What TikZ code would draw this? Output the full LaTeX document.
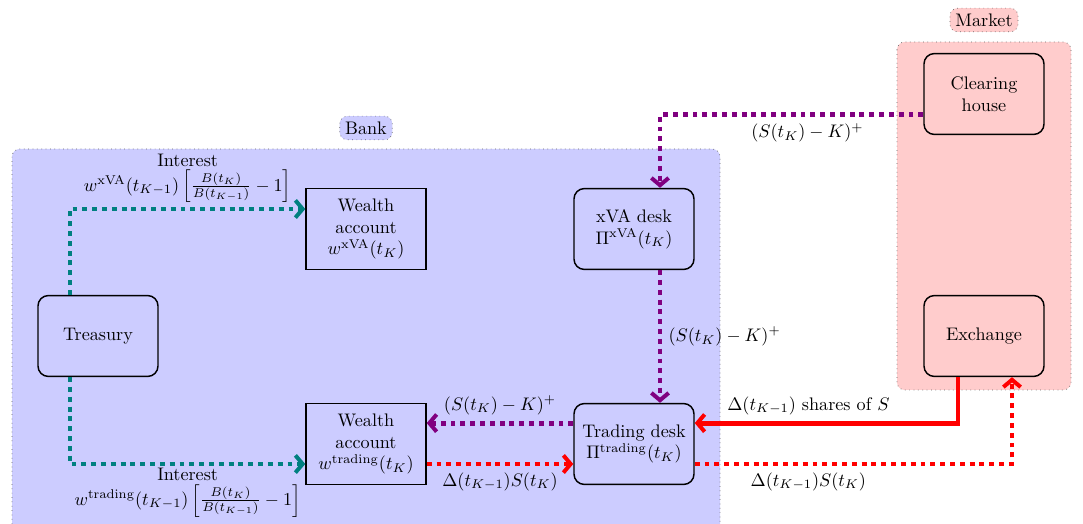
\documentclass[tikz,border=0pt]{standalone}
\usepackage{amsmath}
\usetikzlibrary{positioning, arrows.meta, backgrounds}

\begin{document}
\begin{tikzpicture}[
  x=0.55pt, y=-0.55pt,
  box/.style={draw, thick, align=center, minimum width=66pt, minimum height=44.5pt, inner sep=2pt, fill=blue!20},
  desk/.style={box, rounded corners=2mm},
  mbox/.style={desk, fill=red!20},
  flow/.style={line width=2.7pt, -{Straight Barb[length=4pt, width=9.5pt, line width=2.2pt]}},
  dotflow/.style={flow, dash pattern=on 2.7pt off 2.7pt},
  lbl/.style={text=black},
  group/.style={draw, dotted, gray!80!black, rounded corners=1.5mm},
  tag/.style={group, text=black, inner sep=3pt}
]
\useasboundingbox (0,0) rectangle (1083,524);

% --- Boxes of the bank ---
\node[desk] (treasury) at (98,336) {Treasury};
\node[box] (wxva) at (366,229) {Wealth\\account\\$w^{\mathrm{xVA}}(t_K)$};
\node[box] (wtrade) at (366,444) {Wealth\\account\\$w^{\mathrm{trading}}(t_K)$};
\node[desk] (xva) at (634,229) {xVA desk\\$\Pi^{\mathrm{xVA}}(t_K)$};
\node[desk] (trade) at (634,444) {Trading desk\\$\Pi^{\mathrm{trading}}(t_K)$};

% --- Boxes of the market ---
\node[mbox] (clearing) at (984,94) {Clearing\\house};
\node[mbox] (exchange) at (984,336) {Exchange};

% --- Group backgrounds ---
\begin{scope}[on background layer]
\draw[group, fill=blue!20] (12,149) rectangle (720,545);
\draw[group, fill=red!20] (897,42) rectangle (1071,390);
\end{scope}
\node[tag, fill=blue!20] (bank) at (366,128) {Bank};
\node[tag, fill=red!20] (market) at (984,20) {Market};

% --- Interest ---
\draw[dotflow, teal] ([xshift=-15.4pt]treasury.north) |- ([yshift=11pt]wxva.west)
  node[lbl, pos=0.75, above, align=center, inner sep=2pt] (intxva)
  {Interest\\[1.5pt]$w^{\mathrm{xVA}}(t_{K-1})\left[\frac{B(t_K)}{B(t_{K-1})}-1\right]$};
\draw[dotflow, teal] ([xshift=-15.4pt]treasury.south) |- ([yshift=-11pt]wtrade.west)
  node[lbl, pos=0.75, below, align=center, inner sep=1pt] (inttrade)
  {Interest\\[1.5pt]$w^{\mathrm{trading}}(t_{K-1})\left[\frac{B(t_K)}{B(t_{K-1})}-1\right]$};

% --- Option payoff ---
\draw[dotflow, violet] ([yshift=-11.5pt]clearing.west) -| ([xshift=14.3pt]xva.north)
  node[lbl, pos=0.22, below] (payclear) {$(S(t_K)-K)^+$};
\draw[dotflow, violet] ([xshift=14.3pt]xva.south) -- ([xshift=14.3pt]trade.north)
  node[lbl, midway, right] (paydesk) {$(S(t_K)-K)^+$};
\draw[dotflow, violet] ([yshift=11.5pt]trade.west) -- ([yshift=11.5pt]wtrade.east)
  node[lbl, midway, above] (paywealth) {$(S(t_K)-K)^+$};

% --- Hedge ---
\draw[dotflow, red] ([yshift=-11pt]wtrade.east) -- ([yshift=-11pt]trade.west)
  node[lbl, midway, below] (hedgewealth) {$\Delta(t_{K-1})S(t_K)$};
\draw[flow, red] ([xshift=-14.3pt]exchange.south) |- ([yshift=11.5pt]trade.east)
  node[lbl, pos=0.784, above] (shares) {$\Delta(t_{K-1})$ shares of $S$};
\draw[dotflow, red] ([yshift=-11pt]trade.east) -| ([xshift=15.4pt]exchange.south)
  node[lbl, pos=0.179, below] (hedgecash) {$\Delta(t_{K-1})S(t_K)$};

\end{tikzpicture}
\end{document}
